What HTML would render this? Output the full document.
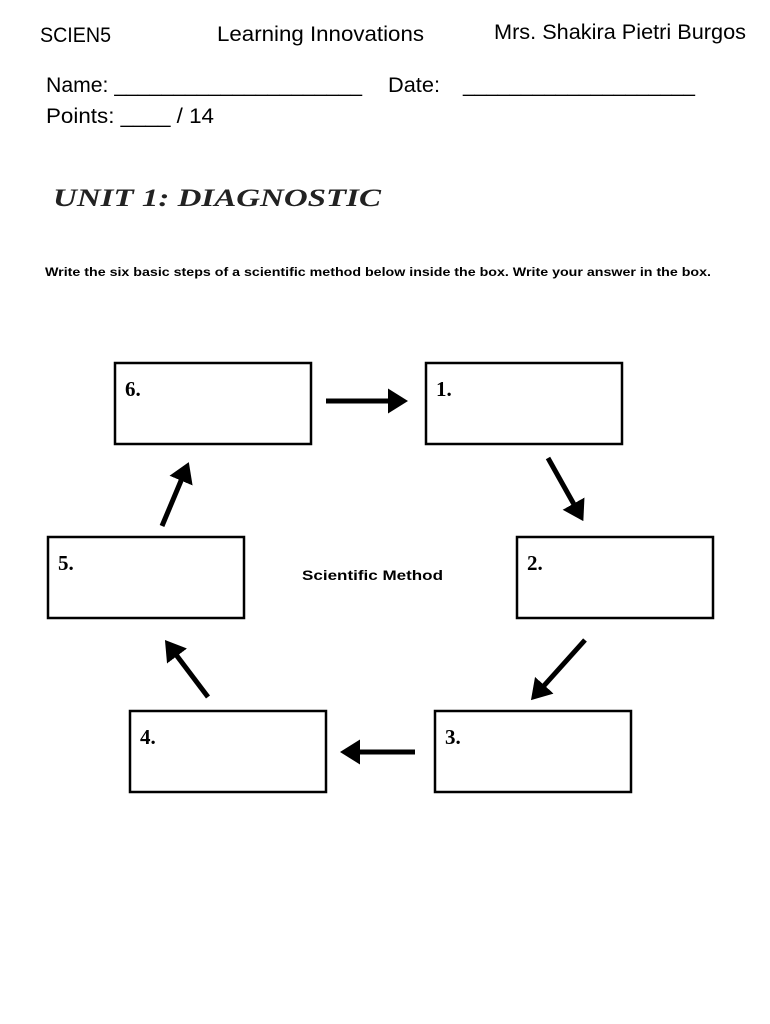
<!DOCTYPE html>
<html><head><style>body{margin:0;background:#fff}svg{display:block}</style></head><body>
<svg width="770" height="1024" xmlns="http://www.w3.org/2000/svg">
<defs><marker id="a" markerWidth="4" markerHeight="5" refX="1" refY="2.5" orient="auto" markerUnits="strokeWidth"><path d="M0,0 L4,2.5 L0,5 z" fill="#000"/></marker></defs>
<g font-family="Liberation Sans, sans-serif" font-size="21" fill="#000">
<text x="40" y="42" textLength="71" lengthAdjust="spacingAndGlyphs">SCIEN5</text>
<text x="217" y="41" textLength="207" lengthAdjust="spacingAndGlyphs">Learning Innovations</text>
<text x="494" y="39" textLength="252" lengthAdjust="spacingAndGlyphs">Mrs. Shakira Pietri Burgos</text>
<text x="46" y="92" textLength="316" lengthAdjust="spacingAndGlyphs">Name: _____________________</text>
<text x="388" y="92" textLength="52" lengthAdjust="spacingAndGlyphs">Date:</text>
<text x="463" y="92" textLength="232" lengthAdjust="spacingAndGlyphs">____________________</text>
<text x="46" y="123" textLength="168" lengthAdjust="spacingAndGlyphs">Points: ____ / 14</text>
</g>
<text x="53" y="206" font-family="Liberation Serif, serif" font-style="italic" font-weight="bold" font-size="25" fill="#222" textLength="328" lengthAdjust="spacingAndGlyphs">UNIT 1: DIAGNOSTIC</text>
<text x="45" y="276" font-family="Liberation Sans, sans-serif" font-weight="bold" font-size="12" textLength="666" lengthAdjust="spacingAndGlyphs">Write the six basic steps of a scientific method below inside the box. Write your answer in the box.</text>
<g fill="none" stroke="#000" stroke-width="2.5">
<rect x="115" y="363" width="196" height="81"/>
<rect x="426" y="363" width="196" height="81"/>
<rect x="48" y="537" width="196" height="81"/>
<rect x="517" y="537" width="196" height="81"/>
<rect x="130" y="711" width="196" height="81"/>
<rect x="435" y="711" width="196" height="81"/>
</g>
<g font-family="Liberation Serif, serif" font-weight="bold" font-size="21">
<text x="125" y="396">6.</text><text x="436" y="396">1.</text>
<text x="58" y="570">5.</text><text x="527" y="570">2.</text>
<text x="140" y="744">4.</text><text x="445" y="744">3.</text>
</g>
<text x="302" y="580" font-family="Liberation Sans, sans-serif" font-weight="bold" font-size="14" textLength="141" lengthAdjust="spacingAndGlyphs">Scientific Method</text>
<g stroke="#000" stroke-width="5" marker-end="url(#a)">
<line x1="326" y1="401" x2="393" y2="401"/>
<line x1="548" y1="458" x2="576" y2="508"/>
<line x1="162" y1="526" x2="183" y2="476"/>
<line x1="208" y1="697" x2="174" y2="652"/>
<line x1="415" y1="752" x2="355" y2="752"/>
<line x1="585" y1="640" x2="541" y2="689"/>
</g>
</svg>
</body></html>
